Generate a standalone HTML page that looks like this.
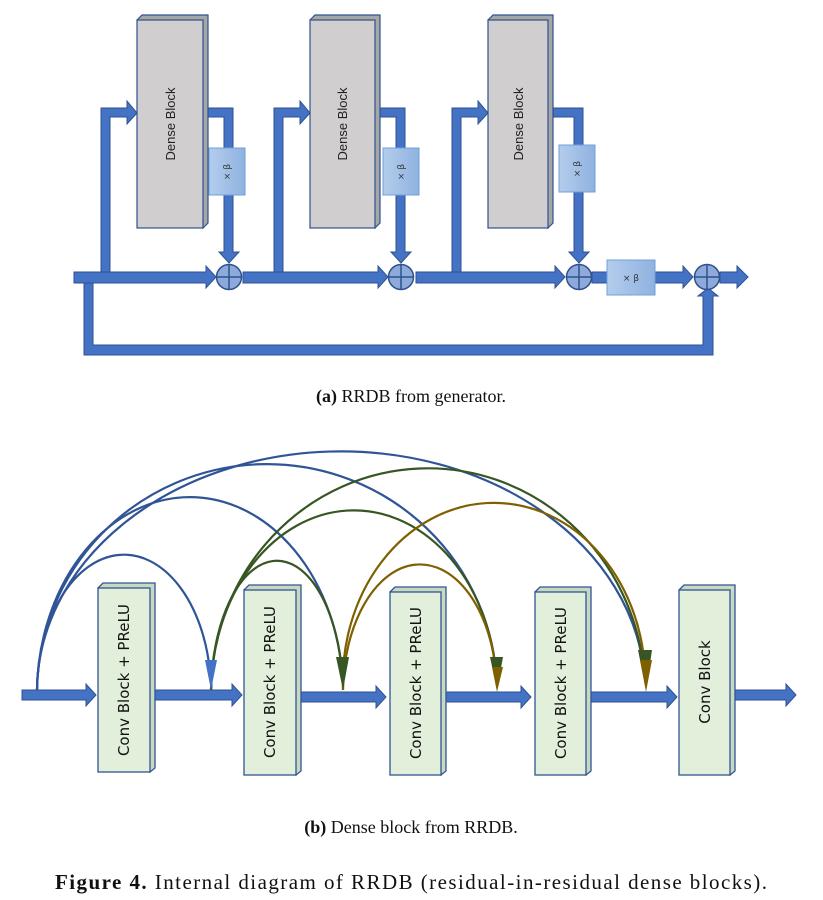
<!DOCTYPE html>
<html><head><meta charset="utf-8"><style>
html,body{margin:0;padding:0;background:#fff;}
svg{display:block;}
</style></head><body>
<svg width="823" height="900" viewBox="0 0 823 900" xmlns="http://www.w3.org/2000/svg">
<defs>
<linearGradient id="gb" x1="0" x2="1"><stop offset="0" stop-color="#b4cdec"/><stop offset="1" stop-color="#8fb2e0"/></linearGradient>
</defs>
<g fill="#4472c4" stroke="#2f528f" stroke-width="1">
<path d="M84 281 H93 V345 H703 V296 H698 L708 288 L718 296 H713 V355 H84 Z"/>
<path d="M74 272 H206 V266 L216 277 L206 288 V283 H74 Z"/>
<path d="M243 272 H378 V266 L388 277 L378 288 V283 H243 Z"/>
<path d="M416 272 H555 V266 L565 277 L555 288 V283 H416 Z"/>
<path d="M592 272 H607 V283 H592 Z"/>
<path d="M655 272 H683 V266 L693 277 L683 288 V283 H655 Z"/>
<path d="M720 272 H737 V266 L748 277 L737 288 V283 H720 Z"/>
<path d="M101 272 V108 H127 V101 L137 113 L127 124 V117 H110 V272 Z"/>
<path d="M274 272 V108 H300 V101 L310 113 L300 124 V117 H283 V272 Z"/>
<path d="M452 272 V108 H478 V101 L488 113 L478 124 V117 H461 V272 Z"/>
<path d="M203 108 H233 V252 H239 L229 263 L219 252 H224 V117 H203 Z"/>
<path d="M375 108 H405 V252 H411 L401 263 L391 252 H396 V117 H375 Z"/>
<path d="M548 108 H583 V252 H589 L579 263 L569 252 H574 V117 H548 Z"/>
</g>
<g stroke="#2f528f" stroke-width="1.2">
<path d="M137 20 L142 15 H208 V223 L203 228 Z" fill="#a6a6a6"/>
<rect x="137" y="20" width="66" height="208" fill="#d0cece"/>
<path d="M310 20 L315 15 H380 V223 L375 228 Z" fill="#a6a6a6"/>
<rect x="310" y="20" width="65" height="208" fill="#d0cece"/>
<path d="M488 20 L493 15 H553 V223 L548 228 Z" fill="#a6a6a6"/>
<rect x="488" y="20" width="60" height="208" fill="#d0cece"/>
</g>
<g font-family="Liberation Sans, sans-serif" font-size="13" fill="#222" text-anchor="middle">
<text transform="translate(175,124) rotate(-90)">Dense Block</text>
<text transform="translate(347,124) rotate(-90)">Dense Block</text>
<text transform="translate(523,124) rotate(-90)">Dense Block</text>
</g>
<g fill="url(#gb)" stroke="#6fa0da" stroke-width="1">
<rect x="209" y="148" width="36" height="47"/>
<rect x="383" y="148" width="36" height="47"/>
<rect x="559" y="145" width="36" height="47"/>
<rect x="607" y="260" width="48" height="35"/>
</g>
<g font-family="DejaVu Sans, sans-serif" font-size="9" fill="#333" text-anchor="middle">
<text transform="translate(230,172) rotate(-90)">× β</text>
<text transform="translate(404,172) rotate(-90)">× β</text>
<text transform="translate(580,169) rotate(-90)">× β</text>
<text x="631" y="281">× β</text>
</g>
<g fill="#8eaadb" stroke="#2f528f" stroke-width="1.5">
<circle cx="229" cy="277" r="12.5"/><path d="M229 264.5 V289.5 M216.5 277 H241.5"/>
<circle cx="401" cy="277" r="12.5"/><path d="M401 264.5 V289.5 M388.5 277 H413.5"/>
<circle cx="579" cy="277" r="12.5"/><path d="M579 264.5 V289.5 M566.5 277 H591.5"/>
<circle cx="707" cy="277" r="12.5"/><path d="M707 264.5 V289.5 M694.5 277 H719.5"/>
</g>
<text x="411" y="402" font-family="Liberation Serif, serif" font-size="18" text-anchor="middle" fill="#111"><tspan font-weight="bold">(a)</tspan> RRDB from generator.</text>

<g fill="none" stroke-width="2.2">
<g stroke="#2f5597">
<path d="M37 690 A87 138 0 0 1 210 672"/>
<path d="M37 690 A153 197 0 0 1 342 672"/>
<path d="M37 690 A230 229 0 0 1 496 672"/>
<path d="M37 690 A304 240 0 0 1 644 672"/>
</g>
<g stroke="#375623">
<path d="M211 690 A66 134 0 0 1 342 672"/>
<path d="M211 690 A143 183 0 0 1 496 672"/>
<path d="M211 690 A217 225 0 0 1 644 672"/>
</g>
<g stroke="#7f6000">
<path d="M343 690 A77 128 0 0 1 496 672"/>
<path d="M343 690 A151 178 0 0 1 645 672"/>
</g>
</g>
<g stroke="none">
<path d="M205 660 H217 L211 690 Z" fill="#4472c4"/>
<path d="M336 657 H349 L343 690 Z" fill="#375623"/>
<path d="M490 657 H503 L497 690 Z" fill="#375623"/>
<path d="M492 667 H503 L497 692 Z" fill="#7f6000"/>
<path d="M638 650 H652 L646 690 Z" fill="#375623"/>
<path d="M640 660 H652 L646 692 Z" fill="#7f6000"/>
</g>
<g fill="#4472c4" stroke="#2f528f" stroke-width="1">
<path d="M22 690 H86 V684 L96 695 L86 706 V700 H22 Z"/>
<path d="M155 690 H232 V684 L242 695 L232 706 V700 H155 Z"/>
<path d="M300 692 H376 V686 L386 697 L376 708 V702 H300 Z"/>
<path d="M444 692 H521 V686 L531 697 L521 708 V702 H444 Z"/>
<path d="M590 692 H667 V686 L677 697 L667 708 V702 H590 Z"/>
<path d="M733 690 H786 V684 L796 695 L786 706 V700 H733 Z"/>
</g>
<g stroke="#2f5597" stroke-width="1.3">
<path d="M98 588 L103 583 H155 V768 L150 772 Z" fill="#c9d9c0"/>
<rect x="98" y="588" width="52" height="184" fill="#e2efda"/>
<path d="M244 590 L249 585 H301 V771 L296 775 Z" fill="#c9d9c0"/>
<rect x="244" y="590" width="52" height="185" fill="#e2efda"/>
<path d="M390 592 L395 587 H446 V771 L441 775 Z" fill="#c9d9c0"/>
<rect x="390" y="592" width="51" height="183" fill="#e2efda"/>
<path d="M535 592 L540 587 H591 V771 L586 775 Z" fill="#c9d9c0"/>
<rect x="535" y="592" width="51" height="183" fill="#e2efda"/>
<path d="M679 590 L684 585 H735 V771 L730 775 Z" fill="#c9d9c0"/>
<rect x="679" y="590" width="51" height="185" fill="#e2efda"/>
</g>
<g font-family="DejaVu Sans, Liberation Sans, sans-serif" font-size="15" fill="#111" text-anchor="middle">
<text transform="translate(129,680) rotate(-90)">Conv Block + PReLU</text>
<text transform="translate(275,682) rotate(-90)">Conv Block + PReLU</text>
<text transform="translate(421,683) rotate(-90)">Conv Block + PReLU</text>
<text transform="translate(566,683) rotate(-90)">Conv Block + PReLU</text>
<text transform="translate(710,682) rotate(-90)">Conv Block</text>
</g>
<text x="411" y="833" font-family="Liberation Serif, serif" font-size="18" text-anchor="middle" fill="#111"><tspan font-weight="bold">(b)</tspan> Dense block from RRDB.</text>
<text x="55" y="889" font-family="Liberation Serif, serif" font-size="21" fill="#111" textLength="712" lengthAdjust="spacing"><tspan font-weight="bold">Figure 4.</tspan> Internal diagram of RRDB (residual-in-residual dense blocks).</text>
</svg>
</body></html>
